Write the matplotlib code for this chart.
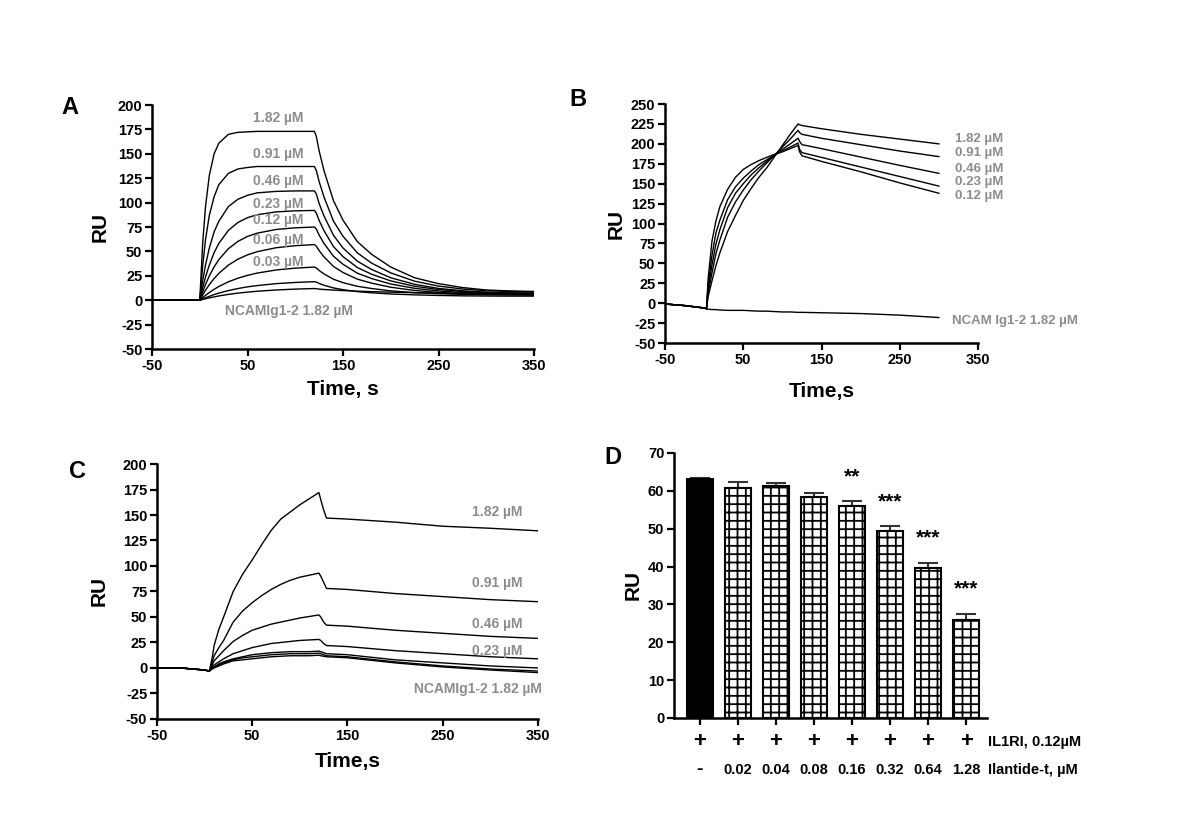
# SPR sensorgrams (A-C) and competition bar chart (D)
import matplotlib
matplotlib.use('Agg')
import matplotlib.pyplot as plt
import matplotlib.transforms as mtransforms

plt.rcParams['font.family'] = ['Liberation Sans', 'DejaVu Sans']
plt.rcParams['font.weight'] = 'bold'
plt.rcParams['axes.labelweight'] = 'bold'
plt.rcParams['axes.unicode_minus'] = False
plt.rcParams['hatch.linewidth'] = 1.3

GRAY = '#8c8c8c'

# ---- panel A: IL1RI binding, time (s) and response (RU)
time_a = [-50, -1, 0, 3, 6, 10, 15, 20, 30, 40, 50, 60, 80, 100, 120,
          122, 125, 130, 140, 150, 165, 180, 200, 225, 250, 275, 300, 325, 350]
a_182 = [0, 0, 0, 58, 96, 128, 150, 161, 170, 172, 172.5, 173, 173, 173, 173,
         168, 153, 133, 102, 82, 60, 47, 34, 23, 17, 13, 10.5, 9.5, 9]
a_091 = [0, 0, 0, 35, 62, 87, 106, 118.5, 130, 134.5, 136, 137, 137, 137, 137,
         133, 121.5, 106, 81, 65.5, 48.5, 38, 28, 19.5, 14.5, 11.5, 9.7, 9, 8.5]
a_046 = [0, 0, 0, 20, 36, 53.5, 70, 81, 96, 103.5, 107.5, 110, 111.5, 112, 112,
         109, 99, 86.5, 66.5, 53.5, 40, 31.5, 23, 16.3, 12.1, 9.7, 8.2, 7.6, 7.3]
a_023 = [0, 0, 0, 12.8, 23.9, 36, 48.7, 58.3, 71.6, 79.7, 84.6, 87.6, 90.5, 91.6, 92,
         89.4, 81.7, 71.4, 55, 44.7, 33.5, 26.6, 19.8, 14.3, 11, 9, 7.8, 7.3, 7]
a_012 = [0, 0, 0, 8.5, 16.1, 25, 34.1, 41.7, 52.8, 60.3, 65.4, 68.7, 72.5, 74.2, 75,
         73, 66.7, 58.3, 45.1, 36.8, 27.7, 22.2, 16.6, 12.2, 9.5, 7.9, 7, 6.5, 6.3]
a_006 = [0, 0, 0, 5.4, 10.2, 16, 22.2, 27.6, 36, 42.1, 46.5, 49.7, 53.8, 55.9, 57,
         55.4, 50.8, 44.5, 34.6, 28.4, 21.6, 17.5, 13.3, 10, 8, 6.8, 6.1, 5.8, 5.6]
a_003 = [0, 0, 0, 2.6, 5, 7.9, 11.2, 14.1, 18.9, 22.6, 25.5, 27.8, 31, 32.9, 34,
         33.1, 30.5, 27, 21.5, 18, 14.3, 12, 9.6, 7.8, 6.7, 6, 5.6, 5.4, 5.3]
a_0015 = [0, 0, 0, 1.3, 2.5, 4, 5.8, 7.3, 9.9, 12, 13.7, 15, 17, 18.2, 19,
          18.6, 17.2, 15.4, 12.6, 10.8, 8.8, 7.6, 6.4, 5.5, 4.9, 4.5, 4.3, 4.2, 4.2]
a_ncam = [0, 0, 0, 0.8, 1.5, 2.4, 3.4, 4.4, 6, 7.3, 8.3, 9.2, 10.5, 11.4, 12,
          11.8, 11.4, 11, 10.4, 9.9, 9.3, 8.8, 8.3, 7.7, 7.2, 6.8, 6.5, 6.2, 6]
labels_a = ['1.82 µM', '0.91 µM', '0.46 µM', '0.23 µM', '0.12 µM', '0.06 µM', '0.03 µM',
            'NCAMIg1-2 1.82 µM']
label_a_y = [187, 150, 122, 99, 82, 62, 39, -11]

# ---- panel B
time_b = [-50, -25, 0, 3, 5, 10, 15, 20, 30, 40, 50, 60, 70, 80, 90, 100, 110, 120,
          122, 125, 150, 200, 250, 300]
b_012 = [-1, -3, -6, -7, 30, 78, 103, 121, 143, 158, 168, 174, 179, 183, 187, 190, 194, 198,
         190, 185, 178, 165, 151, 138]
b_023 = [-1, -3, -6, -7, 22, 60, 88, 104, 130, 146, 157, 166, 174, 180, 186, 191, 196, 201,
         193, 189, 183, 171, 159, 147]
b_046 = [-1, -3, -6, -7, 17, 48, 74, 92, 120, 138, 150, 161, 170, 178, 186, 193, 200, 207,
         203, 199, 194, 183.5, 173, 163]
b_091 = [-1, -3, -6, -7, 12, 38, 62, 79, 108, 127, 142, 155, 166, 176, 186, 196, 206, 217,
         214, 212, 207, 199, 191, 184]
b_182 = [-1, -3, -6, -7, 8, 28, 47, 63, 90, 110, 129, 144, 158, 170, 184, 198, 212, 225,
         224, 223, 219, 212, 206, 200]
b_ncam = [-1, -3, -6, -7, -7.5, -8, -8, -8.5, -9, -9, -9, -9.5, -10, -10, -10.5, -11, -11, -11.5,
          -11.5, -11.5, -12, -13, -15, -18]
labels_b = ['1.82 µM', '0.91 µM', '0.46 µM', '0.23 µM', '0.12 µM', 'NCAM Ig1-2 1.82 µM']
label_b_y = [206, 188.5, 168, 152, 134.5, -22.4]

# ---- panel C
time_c = [-50, -25, 0, 5, 8, 10, 15, 20, 30, 40, 50, 60, 70, 80, 90, 100, 110, 120,
          122, 125, 128, 150, 200, 250, 300, 350]
c_182 = [0, 0, -2, -3, 10, 22, 38, 50, 75, 92, 106, 121, 135, 146, 153, 160, 166, 172,
         165, 155, 147, 146, 143, 139, 137, 134.5]
c_091 = [0, 0, -2, -3, 6, 12, 20, 27, 45, 56, 64, 71, 77, 82, 86, 89, 91, 93,
         90, 84, 78, 77, 73, 70, 67, 65]
c_046 = [0, 0, -2, -3, 3, 7, 12, 17, 26, 32, 37, 40, 43, 45, 47, 49, 50.5, 52,
         50, 45, 42, 41, 37, 34, 31, 29]
c_023 = [0, 0, -2, -3, 1, 3, 6, 9, 14, 17, 20, 22, 24, 25, 26, 27, 27.5, 28,
         27, 24, 22, 21, 17, 14, 11, 9]
c_011 = [0, 0, -2, -3, 0, 1, 4, 6, 9, 11, 13, 14, 15, 15.5, 16, 16, 16, 16.5,
         16, 15, 14, 13, 8, 5, 2, 0]
c_006 = [0, 0, -2, -3, 0, 1, 3, 5, 8, 10, 11, 12, 13, 13.5, 14, 14, 14, 14.5,
         14, 13, 12, 11, 6, 2, -1, -3]
c_ncam = [0, 0, -2, -3, -1, 0, 2, 4, 7, 8, 9, 10, 11, 11.5, 12, 12, 12, 12.5,
          12, 11.5, 11, 10, 5, 1, -2, -4.5]
labels_c = ['1.82 µM', '0.91 µM', '0.46 µM', '0.23 µM', 'NCAMIg1-2 1.82 µM']
label_c_y = [153, 83, 43, 17, -21]

# ---- panel D
ilantide = ['-', '0.02', '0.04', '0.08', '0.16', '0.32', '0.64', '1.28']
ru_mean = [63.2, 60.8, 61.2, 58.4, 56.0, 49.4, 39.6, 25.8]
ru_sem = [0.3, 1.5, 0.8, 0.9, 1.2, 1.2, 1.4, 1.7]
signif = ['', '', '', '', '**', '***', '***', '***']


def style_axes(ax):
    for s in ['top', 'right']:
        ax.spines[s].set_visible(False)
    for s in ['left', 'bottom']:
        ax.spines[s].set_linewidth(1.8)
    ax.tick_params(direction='out', length=5, width=1.6, labelsize=10.5, pad=2)


def sensorgram(ax, t, curves, ylim, yticks):
    for c in curves:
        ax.plot(t, c, color='black', lw=1.0)
    ax.set_xlim(-50, 350)
    ax.set_ylim(*ylim)
    ax.set_xticks([-50, 50, 150, 250, 350])
    ax.set_yticks(yticks)
    style_axes(ax)


fig = plt.figure(figsize=(12, 8.23), dpi=100)

# A
axA = fig.add_axes([0.1267, 0.5759, 0.3183, 0.2965])
sensorgram(axA, time_a, [a_182, a_091, a_046, a_023, a_012, a_006, a_003, a_0015, a_ncam],
           (-50, 200), range(-50, 201, 25))
axA.set_ylabel('RU', fontsize=15, labelpad=6)
axA.set_xlabel('Time, s', fontsize=15, labelpad=5)
for lab, y in zip(labels_a, label_a_y):
    axA.text(82 if 'NCAM' not in lab else 93, y, lab, color=GRAY, fontsize=10,
             ha='center', va='center')

# B
axB = fig.add_axes([0.5542, 0.5832, 0.2608, 0.2904])
sensorgram(axB, time_b, [b_182, b_091, b_046, b_023, b_012, b_ncam],
           (-50, 250), range(-50, 251, 25))
axB.set_ylabel('RU', fontsize=15, labelpad=4)
axB.set_xlabel('Time,s', fontsize=15, labelpad=11)
for lab, y in zip(labels_b, label_b_y):
    axB.text(321 if 'NCAM' not in lab else 317, y, lab, color=GRAY, fontsize=9.5,
             ha='left', va='center', clip_on=False)

# C
axC = fig.add_axes([0.1308, 0.1264, 0.3175, 0.3098])
sensorgram(axC, time_c, [c_182, c_091, c_046, c_023, c_011, c_006, c_ncam],
           (-50, 200), range(-50, 201, 25))
axC.set_ylabel('RU', fontsize=15, labelpad=10)
axC.set_xlabel('Time,s', fontsize=15, labelpad=7)
for lab, y in zip(labels_c, label_c_y):
    axC.text(307 if 'NCAM' not in lab else 287, y, lab, color=GRAY, fontsize=10,
             ha='center', va='center')

# D
axD = fig.add_axes([0.5617, 0.1276, 0.2608, 0.322])
xpos = list(range(len(ru_mean)))
bars = axD.bar(xpos, ru_mean, width=0.68, color='white', edgecolor='black', lw=1.5,
               hatch='++', zorder=2)
bars[0].set_facecolor('black')
bars[0].set_hatch('')
axD.errorbar(xpos, ru_mean, yerr=[[0] * len(ru_sem), ru_sem], fmt='none',
             ecolor='#333333', elinewidth=1.5, capsize=7, capthick=1.5, zorder=1)
for x, m, e, s in zip(xpos, ru_mean, ru_sem, signif):
    if s:
        axD.text(x, m + e + 6.5, s, ha='center', va='center', fontsize=15)
axD.set_xlim(-0.68, 7.55)
axD.set_ylim(0, 70)
axD.set_yticks(range(0, 71, 10))
axD.set_xticks(xpos)
axD.set_xticklabels([])
axD.set_ylabel('RU', fontsize=15, labelpad=4)
style_axes(axD)
trD = mtransforms.blended_transform_factory(axD.transData, axD.transAxes)
for x, c in zip(xpos, ilantide):
    axD.text(x, -0.09, '+', transform=trD, ha='center', va='center', fontsize=16)
    axD.text(x, -0.196, c, transform=trD, ha='center', va='center',
             fontsize=14 if c == '-' else 10.5)
axD.text(7.58, -0.09, 'IL1RI, 0.12µM', transform=trD, ha='left', va='center', fontsize=10.5)
axD.text(7.58, -0.196, 'Ilantide-t, µM', transform=trD, ha='left', va='center', fontsize=10.5)

# panel letters
for lab, x, y in [('A', 70, 107), ('B', 578, 100), ('C', 78, 472), ('D', 613, 458)]:
    fig.text(x / 1200, 1 - y / 823, lab, fontsize=17, ha='center', va='center')

fig.savefig('out.png', dpi=100)
